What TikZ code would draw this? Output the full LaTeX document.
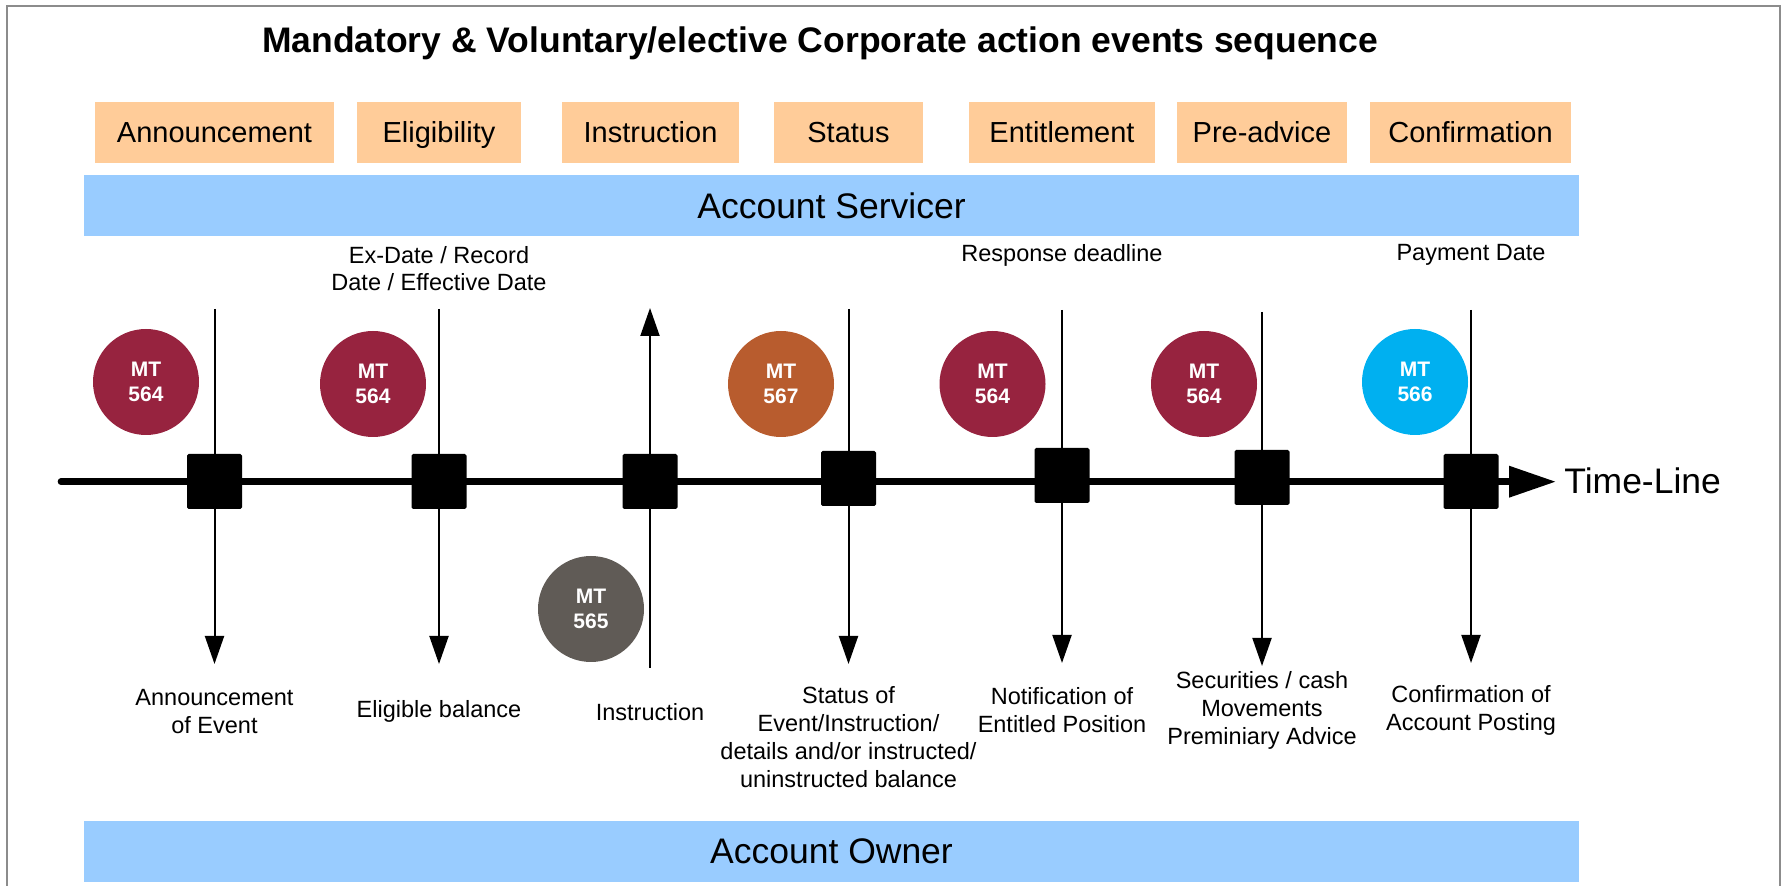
\documentclass[tikz,border=0pt]{standalone}
\usepackage{fontspec}
\setmainfont{Liberation Sans}
\usetikzlibrary{arrows.meta}
\definecolor{peach}{HTML}{FFCC99}
\definecolor{bandblue}{HTML}{99CCFF}
\definecolor{maroonc}{HTML}{97233F}
\definecolor{rustc}{HTML}{B85C2E}
\definecolor{skyc}{HTML}{00B0F0}
\definecolor{stonec}{HTML}{605B56}
\definecolor{framegray}{HTML}{8C8C8C}
\begin{document}
\begin{tikzpicture}[x=0.5pt,y=-0.5pt,
  obox/.style={fill=peach, minimum height=30.5pt, inner sep=0pt, font=\fontsize{14.5}{17}\selectfont, text height=10.4pt, text depth=0pt},
  band/.style={fill=bandblue, minimum width=747.5pt, minimum height=30.5pt, inner sep=0pt, font=\fontsize{17.75}{21}\selectfont, text height=12.7pt, text depth=0pt},
  msg/.style={circle, minimum size=53pt, inner sep=0pt, text=white, align=center, font=\bfseries\fontsize{10.5}{12.5}\selectfont},
  sq/.style={fill=black, minimum size=27.5pt, inner sep=0pt, rounded corners=0.8pt},
  lbl/.style={align=center, inner sep=0pt, font=\fontsize{11.75}{14}\selectfont},
  vline/.style={line width=1pt},
  tipdown/.style={-{Triangle[length=14pt,width=9.5pt]}},
]
\useasboundingbox (0,0) rectangle (1787,886);
\draw[framegray, line width=1.2pt] (7,900) -- (7,6) -- (1780,6) -- (1780,900);

\node[anchor=base, inner sep=0pt, font=\bfseries\fontsize{17.75}{21}\selectfont] (title) at (820,53) {Mandatory \& Voluntary/elective Corporate action events sequence};

\node[obox, minimum width=119.5pt] (p1) at (214.5,132.5) {Announcement};
\node[obox, minimum width=82pt] (p2) at (439,132.5) {Eligibility};
\node[obox, minimum width=88.5pt] (p3) at (650.5,132.5) {Instruction};
\node[obox, minimum width=74.5pt] (p4) at (848.5,132.5) {Status};
\node[obox, minimum width=93pt] (p5) at (1062,132.5) {Entitlement};
\node[obox, minimum width=85pt] (p6) at (1262,132.5) {Pre-advice};
\node[obox, minimum width=100.5pt] (p7) at (1470.5,132.5) {Confirmation};

\node[band] (serv) at (831.5,205.5) {Account Servicer};
\node[band] (own) at (831.5,851) {Account Owner};

\node[lbl, font=\fontsize{11.75}{13.5}\selectfont] (exd) at (439,268.5) {Ex-Date / Record\\Date / Effective Date};
\node[lbl] (resp) at (1062,255) {Response deadline};
\node[lbl] (pay) at (1471,255) {Payment Date};

% timeline
\coordinate (tl0) at (61,481.7);
\coordinate (tl1) at (1556,481.7);
\draw[line width=3.35pt, line cap=round, -{Triangle[length=23.5pt,width=15pt]}] (tl0) -- (tl1);
\node[anchor=west, inner sep=0pt, font=\fontsize{17.75}{21}\selectfont, text height=12.7pt, text depth=0pt] (tlt) at (1564,481) {Time-Line};

% squares
\node[sq] (s1) at (214.5,481.5) {};
\node[sq] (s2) at (439,481.5) {};
\node[sq] (s3) at (650,481.5) {};
\node[sq] (s4) at (848.5,478.5) {};
\node[sq] (s5) at (1062,475.5) {};
\node[sq] (s6) at (1262,477.5) {};
\node[sq] (s7) at (1471,481.5) {};

% line ends
\coordinate (t1) at (214.5,309); \coordinate (b1) at (214.5,664);
\coordinate (t2) at (439,309);   \coordinate (b2) at (439,664);
\coordinate (t3) at (650,308);   \coordinate (b3) at (650,668);
\coordinate (t4) at (848.5,309); \coordinate (b4) at (848.5,664);
\coordinate (t5) at (1062,310);  \coordinate (b5) at (1062,663);
\coordinate (t6) at (1262,312);  \coordinate (b6) at (1262,666);
\coordinate (t7) at (1471,310);  \coordinate (b7) at (1471,663);

\draw[vline] (t1) -- (s1);  \draw[vline, tipdown] (s1) -- (b1);
\draw[vline] (t2) -- (s2);  \draw[vline, tipdown] (s2) -- (b2);
\draw[vline, tipdown] (s3) -- (t3);  \draw[vline] (b3) -- (s3);
\draw[vline] (t4) -- (s4);  \draw[vline, tipdown] (s4) -- (b4);
\draw[vline] (t5) -- (s5);  \draw[vline, tipdown] (s5) -- (b5);
\draw[vline] (t6) -- (s6);  \draw[vline, tipdown] (s6) -- (b6);
\draw[vline] (t7) -- (s7);  \draw[vline, tipdown] (s7) -- (b7);

% message circles
\node[msg, fill=maroonc] (c1) at (146,382) {MT\\564};
\node[msg, fill=maroonc] (c2) at (373,384) {MT\\564};
\node[msg, fill=rustc] (c3) at (781,384) {MT\\567};
\node[msg, fill=maroonc] (c4) at (992.5,384) {MT\\564};
\node[msg, fill=maroonc] (c5) at (1204,384) {MT\\564};
\node[msg, fill=skyc] (c6) at (1415,382) {MT\\566};
\node[msg, fill=stonec] (c7) at (591,609) {MT\\565};

% bottom labels
\node[lbl] (l1) at (214.5,711.5) {Announcement\\of Event};
\node[lbl] (l2) at (439,711) {Eligible balance};
\node[lbl] (l3) at (650,712) {Instruction};
\node[lbl] (l4) at (848.5,737) {Status of\\Event/Instruction/\\details and/or instructed/\\uninstructed balance};
\node[lbl] (l5) at (1062,710.5) {Notification of\\Entitled Position};
\node[lbl] (l6) at (1262,710.5) {Securities / cash\\Movements\\Preminiary Advice};
\node[lbl] (l7) at (1471,710.5) {Confirmation of\\Account Posting};
\end{tikzpicture}
\end{document}
